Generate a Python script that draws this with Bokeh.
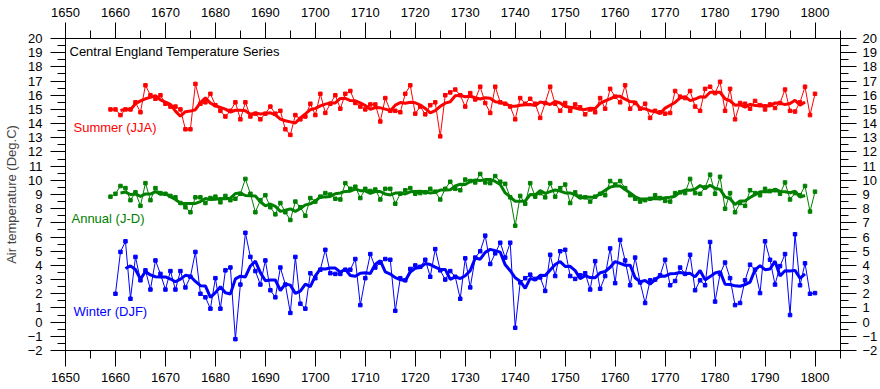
import numpy as np
import pandas as pd
from bokeh.plotting import figure
from bokeh.models import Range1d, LinearAxis, SingleIntervalTicker, Label
from bokeh.embed import file_html
from bokeh.resources import INLINE

# ---------------- data ----------------
years_sa = list(range(1659, 1801))   # summer & annual
years_w = list(range(1660, 1801))    # winter (DJF)

summer = [
    15.0, 15.0, 14.6, 15.0, 15.0, 15.5, 14.8, 16.7, 16.0, 15.75,   # 1659-1668
    16.0, 15.4, 15.2, 15.2, 15.0, 13.6, 13.6, 16.8, 15.4, 15.5,    # 1669-1678
    16.1, 15.3, 14.9, 14.5, 14.9, 15.5, 14.3, 15.5, 14.5, 14.7,    # 1679-1688
    14.3, 14.7, 15.2, 14.7, 14.9, 13.6, 13.2, 14.6, 14.3, 14.5,    # 1689-1698
    15.4, 14.6, 16.1, 14.75, 15.4, 16.0, 15.05, 16.1, 16.3, 15.45, # 1699-1708
    15.2, 15.0, 15.35, 15.35, 14.15, 15.8, 14.9, 14.9, 14.8, 16.1, # 1709-1718
    16.7, 14.7, 15.2, 14.65, 15.3, 15.5, 13.1, 16.0, 16.2, 16.4,   # 1719-1728
    16.0, 15.2, 16.15, 15.7, 16.6, 15.45, 14.75, 16.6, 15.5, 15.4, # 1729-1738
    15.2, 14.3, 15.8, 15.4, 15.75, 15.4, 14.4, 15.45, 16.6, 15.4,  # 1739-1748
    14.9, 15.45, 14.9, 15.35, 15.15, 14.65, 15.0, 14.8, 15.8, 15.05,  # 1749-1758
    16.45, 15.9, 15.5, 16.7, 15.05, 15.45, 15.05, 15.4, 14.4, 14.9,   # 1759-1768
    14.8, 14.7, 14.75, 16.3, 15.9, 15.8, 16.3, 15.2, 14.9, 16.45,     # 1769-1778
    16.6, 16.15, 16.95, 14.9, 16.45, 14.3, 15.45, 15.4, 15.05, 15.6,  # 1779-1788
    15.3, 15.0, 15.35, 15.1, 15.45, 16.4, 14.9, 14.85, 15.5, 16.6,    # 1789-1798
    14.6, 16.1,                                                         # 1799-1800
]

annual = [
    8.85, 9.05, 9.6, 9.45, 8.6, 9.15, 8.2, 9.8, 8.6, 9.45,       # 1659-1668
    9.1, 9.05, 8.9, 8.8, 8.4, 8.1, 7.75, 8.8, 8.8, 8.4,          # 1669-1678
    8.75, 8.85, 8.45, 8.9, 8.6, 8.7, 9.05, 10.1, 9.05, 7.75,     # 1679-1688
    8.6, 8.95, 8.1, 7.6, 8.4, 7.75, 7.2, 8.5, 8.1, 7.5,          # 1689-1698
    8.75, 8.5, 8.85, 9.1, 9.0, 8.7, 8.65, 9.8, 9.4, 9.55,        # 1699-1708
    8.75, 9.4, 9.25, 9.35, 8.65, 9.4, 9.4, 8.35, 9.05, 9.3,      # 1709-1718
    9.45, 9.05, 9.1, 9.15, 9.4, 9.2, 8.65, 9.4, 9.9, 9.4,        # 1719-1728
    9.3, 10.05, 9.95, 9.85, 10.45, 9.85, 9.8, 10.3, 9.9, 9.75,   # 1729-1738
    8.8, 6.8, 8.9, 8.35, 9.8, 8.85, 9.1, 8.8, 9.8, 8.85,         # 1739-1748
    9.45, 9.7, 8.4, 9.15, 8.85, 8.8, 8.5, 8.85, 9.05, 8.95,      # 1749-1758
    9.95, 9.7, 9.95, 9.45, 8.95, 8.7, 8.5, 8.6, 8.7, 8.95,       # 1759-1768
    8.75, 8.55, 8.5, 9.1, 9.15, 9.1, 10.1, 9.1, 9.05, 9.5,       # 1769-1778
    10.4, 9.05, 10.25, 8.0, 9.1, 7.75, 8.4, 8.2, 9.3, 9.1,       # 1779-1788
    8.95, 9.4, 9.25, 9.3, 9.05, 9.85, 8.65, 9.1, 8.95, 9.6,      # 1789-1798
    7.8, 9.2,                                                     # 1799-1800
]

winter = [
    2.0, 4.95, 5.7, 1.65, 4.6, 2.95, 3.65, 2.3, 4.35, 3.4,       # 1660-1669
    2.3, 3.6, 2.3, 3.6, 2.45, 3.2, 4.95, 2.0, 1.75, 0.95,        # 1670-1679
    3.1, 0.95, 3.65, 3.85, -1.2, 2.65, 6.3, 4.6, 3.6, 2.65,      # 1680-1689
    4.35, 2.25, 1.75, 3.85, 2.65, 0.65, 4.6, 1.3, 0.95, 3.45,    # 1690-1699
    3.1, 3.7, 5.1, 3.45, 3.4, 3.4, 3.7, 3.7, 4.45, 1.2,          # 1700-1709
    3.1, 4.8, 3.85, 4.2, 4.45, 4.4, 0.8, 3.1, 2.95, 3.75,        # 1710-1719
    4.0, 3.9, 4.4, 3.2, 5.15, 3.65, 3.0, 3.6, 3.2, 1.65,         # 1720-1729
    4.5, 2.45, 4.55, 5.0, 6.1, 4.1, 4.85, 5.6, 4.55, 5.6,        # 1730-1739
    -0.4, 2.8, 3.1, 3.35, 3.05, 3.15, 2.2, 4.75, 3.25, 5.0,      # 1740-1749
    5.1, 3.25, 3.05, 3.3, 3.45, 2.3, 4.3, 2.35, 3.25, 5.2,       # 1750-1759
    2.75, 5.8, 4.35, 2.6, 4.55, 2.8, 1.35, 2.95, 3.0, 3.3,       # 1760-1769
    4.4, 2.6, 2.9, 3.85, 3.4, 4.75, 2.25, 2.95, 2.6, 5.65,       # 1770-1779
    1.45, 3.4, 4.2, 3.1, 1.2, 1.35, 2.95, 4.05, 3.7, 2.05,       # 1780-1789
    5.7, 4.4, 2.65, 3.95, 4.8, 0.5, 6.2, 2.6, 4.15, 2.0,         # 1790-1799
    2.05,                                                         # 1800
]

series_names = ["Summer (JJA)", "Annual (J-D)", "Winter (DJF)"]
series_colors = ["#FF0000", "#008000", "#0000FF"]
title_text = "Central England Temperature Series"
y_label = "Air temperature (Deg.C)"

assert len(summer) == len(years_sa) and len(annual) == len(years_sa) and len(winter) == len(years_w)

FONT = "Liberation Sans"

p = figure(width=880, height=389,
           x_range=Range1d(1650, 1805.1), y_range=Range1d(-2, 20),
           output_backend="svg", toolbar_location=None,
           min_border_left=61, min_border_right=38,
           min_border_top=38, min_border_bottom=39)
p.xgrid.visible = False
p.ygrid.visible = False
p.outline_line_color = "black"
p.outline_line_width = 1
p.background_fill_color = "white"
p.border_fill_color = "white"

xt = dict(interval=10, num_minor_ticks=2)
yt = dict(interval=1, num_minor_ticks=2)


def style(ax, tick_out, minor_out, standoff):
    ax.axis_line_color = "black"
    ax.major_tick_line_color = "black"
    ax.minor_tick_line_color = "black"
    ax.major_tick_in = 0
    ax.minor_tick_in = 0
    ax.major_tick_out = tick_out
    ax.minor_tick_out = minor_out
    ax.major_label_standoff = standoff
    ax.major_label_text_font = FONT
    ax.major_label_text_font_size = "13px"
    ax.major_label_text_color = "black"


# bottom axis
p.xaxis.ticker = SingleIntervalTicker(**xt)
style(p.xaxis[0], 16, 8, 6)
# left axis
p.yaxis.ticker = SingleIntervalTicker(**yt)
style(p.yaxis[0], 15, 8, 8)
p.yaxis.axis_label = y_label
p.yaxis.axis_label_text_font = FONT
p.yaxis.axis_label_text_font_size = "13px"
p.yaxis.axis_label_text_font_style = "normal"
p.yaxis.axis_label_standoff = 6
# top axis
top = LinearAxis(ticker=SingleIntervalTicker(**xt))
style(top, 16, 8, 6)
p.add_layout(top, "above")
# right axis
right = LinearAxis(ticker=SingleIntervalTicker(**yt))
style(right, 16, 8, 6)
p.add_layout(right, "right")

all_series = [(years_sa, summer), (years_sa, annual), (years_w, winter)]
for (yrs, vals), col in zip(all_series, series_colors):
    p.line(yrs, vals, line_color=col, line_width=1)
    p.scatter(yrs, vals, marker="square", size=3.5, fill_color=col, line_color=col)
    sm = pd.Series(vals, index=yrs).rolling(5, center=True).mean().dropna()
    p.line(list(sm.index), list(sm.values), line_color=col, line_width=3)

# text labels
label_pos = [(1652.4, 13.69), (1652.0, 7.34), (1652.4, 0.75)]
for name, col, (lx, ly) in zip(series_names, series_colors, label_pos):
    p.add_layout(Label(x=lx, y=ly, x_offset=-4, text=name, text_color=col, text_font=FONT,
                       text_font_size="13px", text_baseline="middle"))
p.add_layout(Label(x=1651.6, y=19.09, x_offset=-4, text=title_text, text_color="black",
                   text_font=FONT, text_font_size="13px", text_baseline="middle"))

open("out.html", "w").write(file_html(p, INLINE))
